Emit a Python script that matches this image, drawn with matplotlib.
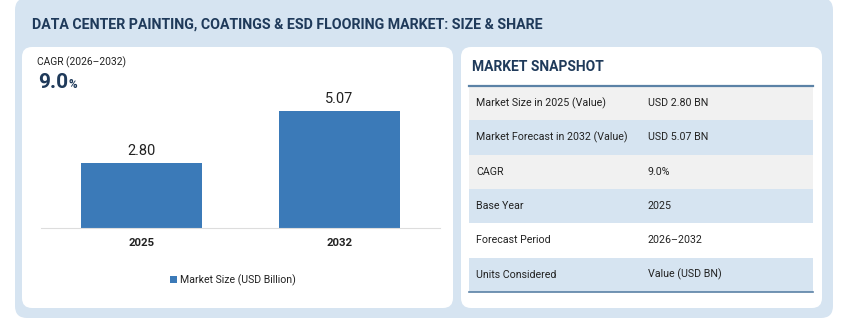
import matplotlib
matplotlib.use("Agg")
import matplotlib.pyplot as plt
from matplotlib.patches import FancyBboxPatch, Rectangle

plt.rcParams["font.family"] = ["Roboto", "DejaVu Sans"]

# chart data
years = ["2025", "2032"]
market_size = [2.80, 5.07]
value_labels = ["2.80", "5.07"]
legend_label = "Market Size (USD Billion)"
cagr_label = "CAGR (2026\u20132032)"
cagr_value = "9.0"

# snapshot table
snap_keys = ["Market Size in 2025 (Value)", "Market Forecast in 2032 (Value)", "CAGR",
             "Base Year", "Forecast Period", "Units Considered"]
snap_vals = ["USD 2.80 BN", "USD 5.07 BN", "9.0%", "2025", "2026\u20132032", "Value (USD BN)"]

NAVY = "#1f3a5a"
PANEL = "#d6e4f1"
BAR = "#3b7ab8"
GRAY_ROW = "#f1f1f1"
LINE = "#5b82a6"

W, H = 845, 333
fig = plt.figure(figsize=(W / 100, H / 100), dpi=100)

# background overlay in pixel coordinates
bg = fig.add_axes([0, 0, 1, 1])
bg.set_xlim(0, W)
bg.set_ylim(H, 0)
bg.axis("off")


def rbox(x0, y0, x1, y1, color, r):
    p = FancyBboxPatch((x0 + r, y0 + r), (x1 - x0) - 2 * r, (y1 - y0) - 2 * r,
                       boxstyle=f"round,pad={r}", fc=color, ec="none")
    bg.add_patch(p)


rbox(15, -2, 833, 318, PANEL, 12)
rbox(22, 47, 453, 308, "white", 10)
rbox(461, 47, 822, 308, "white", 10)

bg.text(32, 25, "DATA CENTER PAINTING, COATINGS & ESD FLOORING MARKET: SIZE & SHARE",
        fontsize=10.2, fontweight="bold", color=NAVY, va="center", ha="left")

# CAGR block
bg.text(37, 62, cagr_label, fontsize=7.4, color="#222222", va="center")
t = bg.text(38, 82, cagr_value, fontsize=15, fontweight="bold", color=NAVY, va="center")
fig.canvas.draw()
bb = t.get_window_extent()
bg.text(38 + bb.width + 0.5, 84.5, "%", fontsize=8.5, fontweight="bold", color=NAVY, va="center")

# snapshot table
bg.text(472, 67, "MARKET SNAPSHOT", fontsize=10, fontweight="bold", color=NAVY, va="center")
row_colors = [GRAY_ROW, PANEL, GRAY_ROW, PANEL, "white", PANEL]
top = 86
rh = 34.3
for i, (k, v) in enumerate(zip(snap_keys, snap_vals)):
    y0 = top + i * rh
    bg.add_patch(Rectangle((469, y0), 344, rh, fc=row_colors[i], ec="none"))
    bg.text(476, y0 + rh / 2, k, fontsize=7.7, color="#222222", va="center")
    bg.text(648, y0 + rh / 2, v, fontsize=7.7, color="#222222", va="center")
bg.plot([469, 813], [top, top], color=LINE, lw=1.6)
bg.plot([469, 813], [top + 6 * rh, top + 6 * rh], color=LINE, lw=1.2)

# bar chart axes: x 41..440 px, y 80..228 px
ax = fig.add_axes([41 / W, 1 - 228 / H, (440 - 41) / W, (228 - 80) / H])
ax.patch.set_alpha(0)
xs = range(len(years))
bars = ax.bar(xs, market_size, width=0.613, color=BAR, label=legend_label)
ax.set_xlim(-0.509, 1.511)
ax.set_ylim(0, 148 / 117 * 5.07)
for b, lab in zip(bars, value_labels):
    ax.annotate(lab, (b.get_x() + b.get_width() / 2, b.get_height()),
                xytext=(0, 12), textcoords="offset pixels", ha="center", va="center",
                fontsize=10.5, color="#222222")
ax.set_xticks(list(xs))
ax.set_xticklabels(years, fontsize=8.2, fontweight="bold", color="#222222")
ax.tick_params(axis="x", length=0, pad=7)
ax.set_yticks([])
for s in ["top", "left", "right"]:
    ax.spines[s].set_visible(False)
ax.spines["bottom"].set_color("#dddddd")
ax.spines["bottom"].set_linewidth(0.8)

leg = fig.legend(handles=[bars], labels=[legend_label], loc="center",
                 bbox_to_anchor=(233 / W, 1 - 280 / H), frameon=False,
                 fontsize=7.6, handlelength=0.6, handleheight=0.6, handletextpad=0.3)
for txt in leg.get_texts():
    txt.set_color("#222222")

fig.savefig("out.png", dpi=100, facecolor="white")
